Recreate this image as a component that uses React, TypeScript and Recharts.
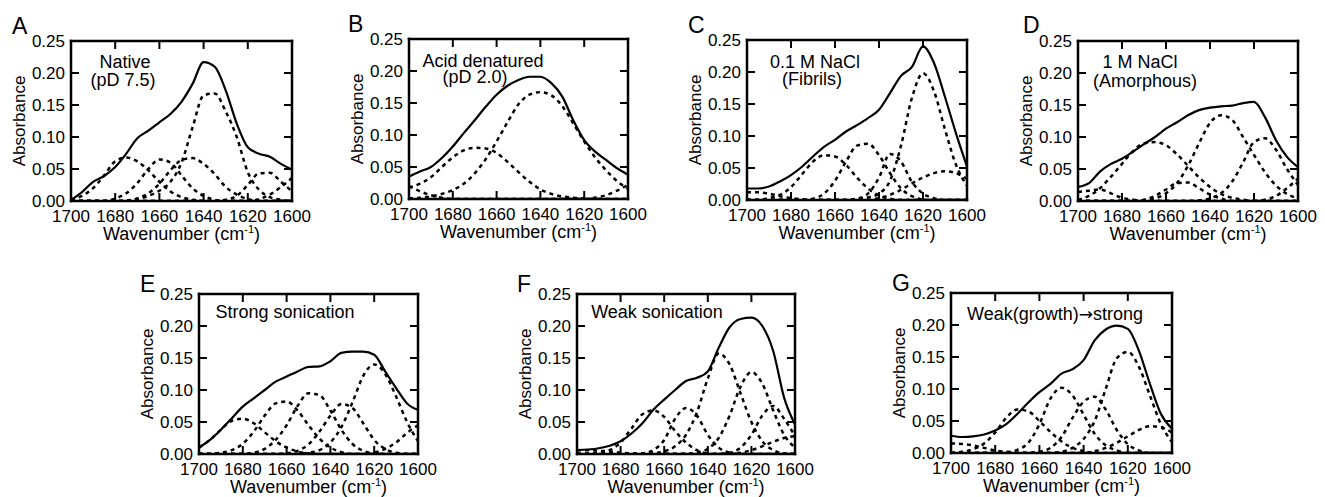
import React from "react";
import { Line, LineChart, XAxis, YAxis } from "recharts";

// x grid shared by every panel (cm-1), left to right
const WAVENUMBERS = [
  1700, 1695, 1690, 1685, 1680, 1675, 1670, 1665, 1660, 1655, 1650,
  1645, 1640, 1635, 1630, 1625, 1620, 1615, 1610, 1605, 1600,
];
const X_TICKS = [1700, 1680, 1660, 1640, 1620, 1600];
const X_INNER_TICKS = [1680, 1660, 1640, 1620];
const Y_TICKS = [0, 0.05, 0.1, 0.15, 0.2, 0.25];
const Y_INNER_TICKS = [0.05, 0.1, 0.15, 0.2];

// A: native
const A_TOTAL = [0.002, 0.014, 0.03, 0.039, 0.053, 0.074, 0.098, 0.11, 0.123, 0.136, 0.155, 0.183, 0.217, 0.21, 0.173, 0.121, 0.084, 0.074, 0.069, 0.058, 0.049];
const A_BAND_1 = [0.002, 0.008, 0.02, 0.04, 0.062, 0.068, 0.062, 0.048, 0.03, 0.015, 0.006, 0.002, 0, 0, 0, 0, 0, 0, 0, 0, 0];
const A_BAND_2 = [0, 0, 0, 0, 0.004, 0.012, 0.028, 0.05, 0.065, 0.06, 0.04, 0.02, 0.008, 0.002, 0, 0, 0, 0, 0, 0, 0];
const A_BAND_3 = [0, 0, 0, 0, 0, 0, 0.004, 0.012, 0.027, 0.048, 0.064, 0.067, 0.058, 0.042, 0.022, 0.01, 0.003, 0, 0, 0, 0];
const A_BAND_4 = [0, 0, 0, 0, 0, 0.001, 0.003, 0.008, 0.016, 0.03, 0.06, 0.115, 0.165, 0.168, 0.14, 0.1, 0.045, 0.018, 0.006, 0.002, 0];
const A_BAND_5 = [0, 0, 0, 0, 0, 0, 0, 0, 0, 0, 0, 0, 0, 0, 0.002, 0.008, 0.025, 0.043, 0.044, 0.03, 0.015];
const A_BAND_6 = [0, 0, 0, 0, 0, 0, 0, 0, 0, 0, 0, 0, 0, 0, 0, 0, 0, 0.003, 0.01, 0.022, 0.036];

// B: acid denatured
const B_TOTAL = [0.035, 0.043, 0.05, 0.064, 0.082, 0.103, 0.123, 0.144, 0.163, 0.177, 0.186, 0.191, 0.191, 0.181, 0.16, 0.123, 0.092, 0.074, 0.061, 0.048, 0.038];
const B_BAND_1 = [0.001, 0.002, 0.004, 0.008, 0.014, 0.024, 0.04, 0.062, 0.09, 0.12, 0.148, 0.163, 0.167, 0.162, 0.145, 0.118, 0.09, 0.065, 0.045, 0.028, 0.016];
const B_BAND_2 = [0.018, 0.024, 0.034, 0.05, 0.065, 0.076, 0.08, 0.079, 0.072, 0.058, 0.042, 0.027, 0.015, 0.008, 0.004, 0.002, 0.001, 0, 0, 0, 0];
const B_BAND_3 = [0.02, 0.012, 0.006, 0.002, 0, 0, 0, 0, 0, 0, 0, 0, 0, 0, 0, 0, 0, 0, 0, 0, 0];
const B_BAND_4 = [0, 0, 0, 0, 0, 0, 0, 0, 0, 0, 0, 0, 0, 0, 0, 0, 0, 0.002, 0.006, 0.013, 0.022];

// C: 0.1 M NaCl fibrils
const C_TOTAL = [0.018, 0.018, 0.021, 0.029, 0.039, 0.052, 0.068, 0.083, 0.094, 0.107, 0.117, 0.128, 0.141, 0.167, 0.194, 0.208, 0.24, 0.214, 0.161, 0.104, 0.052];
const C_BAND_1 = [0, 0, 0.003, 0.008, 0.02, 0.04, 0.06, 0.07, 0.068, 0.055, 0.035, 0.018, 0.007, 0.002, 0, 0, 0, 0, 0, 0, 0];
const C_BAND_2 = [0, 0, 0, 0, 0, 0, 0.002, 0.01, 0.03, 0.06, 0.085, 0.088, 0.07, 0.042, 0.018, 0.006, 0.001, 0, 0, 0, 0];
const C_BAND_3 = [0, 0, 0, 0, 0, 0, 0, 0, 0, 0, 0.002, 0.01, 0.035, 0.072, 0.06, 0.028, 0.01, 0.003, 0, 0, 0];
const C_BAND_4 = [0, 0, 0, 0, 0, 0, 0, 0, 0, 0, 0.002, 0.004, 0.01, 0.03, 0.085, 0.16, 0.198, 0.17, 0.11, 0.055, 0.022];
const C_BAND_5 = [0, 0, 0, 0, 0, 0, 0, 0, 0, 0, 0, 0, 0.003, 0.008, 0.016, 0.026, 0.035, 0.042, 0.045, 0.042, 0.033];
const C_BAND_6 = [0.012, 0.012, 0.01, 0.006, 0.003, 0.001, 0, 0, 0, 0, 0, 0, 0, 0, 0, 0, 0, 0, 0, 0, 0];

// D: 1 M NaCl amorphous
const D_TOTAL = [0.022, 0.028, 0.046, 0.058, 0.066, 0.077, 0.089, 0.1, 0.113, 0.123, 0.134, 0.142, 0.146, 0.148, 0.149, 0.153, 0.155, 0.131, 0.095, 0.069, 0.053];
const D_BAND_1 = [0.002, 0.008, 0.02, 0.038, 0.058, 0.078, 0.09, 0.092, 0.087, 0.073, 0.055, 0.037, 0.022, 0.011, 0.005, 0.002, 0, 0, 0, 0, 0];
const D_BAND_2 = [0, 0, 0, 0, 0, 0, 0.002, 0.008, 0.018, 0.028, 0.029, 0.02, 0.01, 0.004, 0, 0, 0, 0, 0, 0, 0];
const D_BAND_3 = [0, 0, 0, 0, 0, 0, 0.001, 0.004, 0.012, 0.028, 0.055, 0.09, 0.122, 0.134, 0.127, 0.1, 0.072, 0.045, 0.024, 0.011, 0.004];
const D_BAND_4 = [0, 0, 0, 0, 0, 0, 0, 0, 0, 0, 0, 0.001, 0.004, 0.012, 0.03, 0.06, 0.092, 0.098, 0.08, 0.05, 0.025];
const D_BAND_5 = [0.014, 0.016, 0.018, 0.012, 0.005, 0.002, 0, 0, 0, 0, 0, 0, 0, 0, 0, 0, 0, 0, 0, 0, 0];
const D_BAND_6 = [0, 0, 0, 0, 0, 0, 0, 0, 0, 0, 0, 0, 0, 0, 0, 0, 0, 0.002, 0.008, 0.02, 0.035];

// E: strong sonication
const E_TOTAL = [0.01, 0.022, 0.038, 0.056, 0.074, 0.087, 0.1, 0.113, 0.121, 0.129, 0.136, 0.137, 0.145, 0.158, 0.16, 0.16, 0.155, 0.129, 0.103, 0.079, 0.069];
const E_BAND_1 = [0.01, 0.022, 0.038, 0.052, 0.055, 0.048, 0.034, 0.02, 0.01, 0.004, 0.001, 0, 0, 0, 0, 0, 0, 0, 0, 0, 0];
const E_BAND_2 = [0, 0, 0.002, 0.006, 0.016, 0.035, 0.06, 0.079, 0.082, 0.068, 0.045, 0.024, 0.01, 0.003, 0, 0, 0, 0, 0, 0, 0];
const E_BAND_3 = [0, 0, 0, 0, 0, 0.002, 0.008, 0.022, 0.045, 0.075, 0.095, 0.092, 0.068, 0.038, 0.016, 0.005, 0.001, 0, 0, 0, 0];
const E_BAND_4 = [0, 0, 0, 0, 0, 0, 0, 0, 0.001, 0.005, 0.015, 0.035, 0.06, 0.078, 0.072, 0.048, 0.022, 0.008, 0.002, 0, 0];
const E_BAND_5 = [0, 0, 0, 0, 0, 0, 0, 0, 0, 0, 0.002, 0.006, 0.018, 0.042, 0.08, 0.122, 0.14, 0.125, 0.09, 0.05, 0.02];
const E_BAND_6 = [0, 0, 0, 0, 0, 0, 0, 0, 0, 0, 0, 0, 0, 0, 0, 0, 0.002, 0.008, 0.018, 0.033, 0.045];

// F: weak sonication
const F_TOTAL = [0.006, 0.007, 0.009, 0.013, 0.02, 0.032, 0.048, 0.069, 0.085, 0.1, 0.114, 0.119, 0.129, 0.166, 0.198, 0.211, 0.213, 0.2, 0.161, 0.088, 0.046];
const F_BAND_1 = [0, 0, 0.002, 0.006, 0.018, 0.04, 0.062, 0.068, 0.058, 0.036, 0.018, 0.006, 0.001, 0, 0, 0, 0, 0, 0, 0, 0];
const F_BAND_2 = [0, 0, 0, 0, 0, 0, 0.001, 0.006, 0.022, 0.055, 0.072, 0.06, 0.03, 0.01, 0.002, 0, 0, 0, 0, 0, 0];
const F_BAND_3 = [0, 0, 0, 0, 0, 0, 0, 0.001, 0.004, 0.012, 0.03, 0.065, 0.118, 0.157, 0.14, 0.095, 0.05, 0.02, 0.006, 0.001, 0];
const F_BAND_4 = [0, 0, 0, 0, 0, 0, 0, 0, 0, 0, 0, 0.002, 0.008, 0.025, 0.06, 0.105, 0.128, 0.11, 0.068, 0.03, 0.01];
const F_BAND_5 = [0, 0, 0, 0, 0, 0, 0, 0, 0, 0, 0, 0, 0, 0, 0.002, 0.01, 0.03, 0.06, 0.075, 0.055, 0.028];
const F_BAND_6 = [0, 0, 0, 0, 0, 0, 0, 0, 0, 0, 0, 0, 0, 0, 0, 0.002, 0.006, 0.012, 0.019, 0.025, 0.028];
const F_BAND_7 = [0.006, 0.006, 0.005, 0.004, 0.002, 0.001, 0, 0, 0, 0, 0, 0, 0, 0, 0, 0, 0, 0, 0, 0, 0];

// G: weak (growth) then strong
const G_TOTAL = [0.027, 0.025, 0.026, 0.029, 0.035, 0.045, 0.061, 0.079, 0.095, 0.108, 0.124, 0.131, 0.145, 0.176, 0.193, 0.199, 0.194, 0.16, 0.108, 0.061, 0.038];
const G_BAND_1 = [0, 0.002, 0.006, 0.015, 0.032, 0.055, 0.068, 0.065, 0.05, 0.033, 0.018, 0.008, 0.003, 0, 0, 0, 0, 0, 0, 0, 0];
const G_BAND_2 = [0, 0, 0, 0, 0, 0.001, 0.005, 0.016, 0.045, 0.085, 0.102, 0.09, 0.06, 0.03, 0.012, 0.004, 0, 0, 0, 0, 0];
const G_BAND_3 = [0, 0, 0, 0, 0, 0, 0, 0, 0.002, 0.008, 0.025, 0.055, 0.08, 0.088, 0.068, 0.036, 0.014, 0.004, 0, 0, 0];
const G_BAND_4 = [0, 0, 0, 0, 0, 0, 0, 0, 0, 0, 0.002, 0.008, 0.022, 0.05, 0.1, 0.148, 0.158, 0.135, 0.09, 0.045, 0.017];
const G_BAND_5 = [0, 0, 0, 0, 0, 0, 0, 0, 0, 0, 0, 0, 0, 0.003, 0.008, 0.016, 0.026, 0.036, 0.042, 0.04, 0.032];
const G_BAND_6 = [0.015, 0.014, 0.012, 0.008, 0.004, 0.002, 0, 0, 0, 0, 0, 0, 0, 0, 0, 0, 0, 0, 0, 0, 0];

const FONT = '"Liberation Sans", Arial, Helvetica, sans-serif';
const INK = "#000";
const TICK_LEN = 8;
// chart area around each plot box
const ML = 75;
const MR = 24;
const MT = 12;
const MB = 48;

const PANELS = [
  {
    id: "A", plot: { x: 71, y: 41, w: 221, h: 160 }, letter: { x: 12, y: 34 },
    notes: [{ text: "Native", x: 125, y: 68 }, { text: "(pD 7.5)", x: 123, y: 86 }],
    total: A_TOTAL, bands: [A_BAND_1, A_BAND_2, A_BAND_3, A_BAND_4, A_BAND_5, A_BAND_6],
  },
  {
    id: "B", plot: { x: 409, y: 39, w: 219, h: 160 }, letter: { x: 348, y: 32 },
    notes: [{ text: "Acid denatured", x: 483, y: 67 }, { text: "(pD 2.0)", x: 475, y: 83 }],
    total: B_TOTAL, bands: [B_BAND_1, B_BAND_2, B_BAND_3, B_BAND_4],
  },
  {
    id: "C", plot: { x: 747, y: 40, w: 220, h: 160 }, letter: { x: 688, y: 33 },
    notes: [{ text: "0.1 M NaCl", x: 815, y: 68 }, { text: "(Fibrils)", x: 812, y: 85 }],
    total: C_TOTAL, bands: [C_BAND_1, C_BAND_2, C_BAND_3, C_BAND_4, C_BAND_5, C_BAND_6],
  },
  {
    id: "D", plot: { x: 1078, y: 41, w: 220, h: 160 }, letter: { x: 1023, y: 33 },
    notes: [{ text: "1 M NaCl", x: 1140, y: 68 }, { text: "(Amorphous)", x: 1145, y: 87 }],
    total: D_TOTAL, bands: [D_BAND_1, D_BAND_2, D_BAND_3, D_BAND_4, D_BAND_5, D_BAND_6],
  },
  {
    id: "E", plot: { x: 199, y: 294, w: 219, h: 160 }, letter: { x: 140, y: 292 },
    notes: [{ text: "Strong sonication", x: 285, y: 318 }],
    total: E_TOTAL, bands: [E_BAND_1, E_BAND_2, E_BAND_3, E_BAND_4, E_BAND_5, E_BAND_6],
  },
  {
    id: "F", plot: { x: 577, y: 294, w: 218, h: 160 }, letter: { x: 517, y: 292 },
    notes: [{ text: "Weak sonication", x: 657, y: 318 }],
    total: F_TOTAL, bands: [F_BAND_1, F_BAND_2, F_BAND_3, F_BAND_4, F_BAND_5, F_BAND_6, F_BAND_7],
  },
  {
    id: "G", plot: { x: 951, y: 293, w: 221, h: 160 }, letter: { x: 892, y: 291 },
    notes: [{ text: "Weak(growth)", after: "strong", x: 1055, y: 320 }],
    total: G_TOTAL, bands: [G_BAND_1, G_BAND_2, G_BAND_3, G_BAND_4, G_BAND_5, G_BAND_6],
  },
];

const textStyle = { fontFamily: FONT, fill: INK };

// tick marks all point into the box, labels sit outside
function BottomTick({ x, y, payload }: any) {
  const v = payload.value;
  return (
    <g>
      {X_INNER_TICKS.includes(v) && (
        <line x1={x} x2={x} y1={y} y2={y - TICK_LEN} stroke={INK} strokeWidth={2} />
      )}
      <text x={x} y={y + 21} textAnchor="middle" fontSize={17} style={textStyle}>
        {v}
      </text>
    </g>
  );
}

function TopTick({ x, y }: any) {
  return <line x1={x} x2={x} y1={y} y2={y + TICK_LEN} stroke={INK} strokeWidth={2} />;
}

function LeftTick({ x, y, payload }: any) {
  const v = payload.value;
  return (
    <g>
      {Y_INNER_TICKS.includes(v) && (
        <line x1={x} x2={x + TICK_LEN} y1={y} y2={y} stroke={INK} strokeWidth={2} />
      )}
      <text x={x - 6} y={y} dy="0.36em" textAnchor="end" fontSize={17} style={textStyle}>
        {v.toFixed(2)}
      </text>
    </g>
  );
}

function RightTick({ x, y }: any) {
  return <line x1={x} x2={x - TICK_LEN} y1={y} y2={y} stroke={INK} strokeWidth={2} />;
}

function XTitle({ viewBox }: any) {
  const cx = viewBox.x + viewBox.width / 2;
  return (
    <text x={cx} y={viewBox.y + 39} textAnchor="middle" fontSize={18} style={textStyle}>
      <tspan>Wavenumber (cm</tspan>
      <tspan dy={-7} fontSize={11}>-1</tspan>
      <tspan dy={7}>)</tspan>
    </text>
  );
}

function YTitle({ viewBox }: any) {
  const cx = viewBox.x + viewBox.width - 52;
  const cy = viewBox.y + viewBox.height / 2;
  return (
    <text
      x={cx}
      y={cy}
      transform={`rotate(-90 ${cx} ${cy})`}
      textAnchor="middle"
      dominantBaseline="central"
      fontSize={17}
      style={textStyle}
    >
      Absorbance
    </text>
  );
}

const border = { stroke: INK, strokeWidth: 2.5, strokeLinecap: "square" as const };

function Panel({ p }: any) {
  const rows = WAVENUMBERS.map((w, i) => {
    const row: any = { w, total: p.total[i] };
    p.bands.forEach((band: number[], j: number) => {
      row[`band${j}`] = band[i];
    });
    return row;
  });

  return (
    <div style={{ position: "absolute", left: p.plot.x - ML, top: p.plot.y - MT }}>
      <LineChart
        width={p.plot.w + ML + MR}
        height={p.plot.h + MT + MB}
        data={rows}
        margin={{ top: 0, right: 0, bottom: 0, left: 0 }}
      >
        <XAxis
          xAxisId="bottom"
          dataKey="w"
          type="number"
          domain={[1600, 1700]}
          reversed
          allowDataOverflow
          ticks={X_TICKS}
          interval={0}
          height={MB}
          tickSize={0}
          tickMargin={0}
          tickLine={false}
          axisLine={border}
          tick={<BottomTick />}
          label={<XTitle />}
        />
        <XAxis
          xAxisId="top"
          orientation="top"
          dataKey="w"
          type="number"
          domain={[1600, 1700]}
          reversed
          allowDataOverflow
          ticks={X_INNER_TICKS}
          interval={0}
          height={MT}
          tickSize={0}
          tickMargin={0}
          tickLine={false}
          axisLine={border}
          tick={<TopTick />}
        />
        <YAxis
          yAxisId="left"
          type="number"
          domain={[0, 0.25]}
          allowDataOverflow
          ticks={Y_TICKS}
          interval={0}
          width={ML}
          tickSize={0}
          tickMargin={0}
          tickLine={false}
          axisLine={border}
          tick={<LeftTick />}
          label={<YTitle />}
        />
        <YAxis
          yAxisId="right"
          orientation="right"
          type="number"
          domain={[0, 0.25]}
          allowDataOverflow
          ticks={Y_INNER_TICKS}
          interval={0}
          width={MR}
          tickSize={0}
          tickMargin={0}
          tickLine={false}
          axisLine={border}
          tick={<RightTick />}
        />
        {p.bands.map((_: number[], j: number) => (
          <Line
            key={j}
            xAxisId="bottom"
            yAxisId="left"
            dataKey={`band${j}`}
            type="monotone"
            stroke={INK}
            strokeWidth={2.5}
            strokeDasharray="4 4"
            dot={false}
            isAnimationActive={false}
          />
        ))}
        <Line
          xAxisId="bottom"
          yAxisId="left"
          dataKey="total"
          type="monotone"
          stroke={INK}
          strokeWidth={2.2}
          dot={false}
          isAnimationActive={false}
        />
      </LineChart>
    </div>
  );
}

export default function App() {
  return (
    <div
      style={{
        position: "absolute",
        left: 0,
        top: 0,
        width: 1325,
        height: 497,
        background: "#fff",
        overflow: "hidden",
      }}
    >
      {PANELS.map((p) => (
        <Panel key={p.id} p={p} />
      ))}
      <svg
        width={1325}
        height={497}
        style={{ position: "absolute", left: 0, top: 0, pointerEvents: "none" }}
      >
        {PANELS.map((p) => (
          <g key={p.id}>
            <text x={p.letter.x} y={p.letter.y} fontSize={23} style={textStyle}>
              {p.id}
            </text>
            {p.notes.map((n: any) => (
              <text key={n.text} x={n.x} y={n.y} textAnchor="middle" fontSize={18} style={textStyle}>
                {n.text}
                {n.after && (
                  <>
                    <tspan style={{ fontFamily: '"DejaVu Sans", sans-serif' }} fontSize={17}>
                      {"\u2192"}
                    </tspan>
                    {n.after}
                  </>
                )}
              </text>
            ))}
          </g>
        ))}
      </svg>
    </div>
  );
}
